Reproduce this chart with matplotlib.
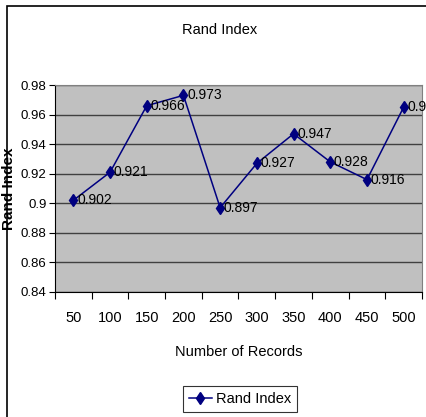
import matplotlib
matplotlib.use('Agg')
import matplotlib.pyplot as plt
from matplotlib.patches import Rectangle

plt.rcParams['font.family'] = ['Liberation Sans', 'DejaVu Sans']

records = ['50', '100', '150', '200', '250', '300', '350', '400', '450', '500']
rand_index = [0.902, 0.921, 0.966, 0.973, 0.897, 0.927, 0.947, 0.928, 0.916, 0.965]
y_ticks = [0.84, 0.86, 0.88, 0.90, 0.92, 0.94, 0.96, 0.98]
y_tick_labels = ['0.84', '0.86', '0.88', '0.9', '0.92', '0.94', '0.96', '0.98']

fig = plt.figure(figsize=(4.27, 4.17), dpi=100)
# outer chart frame (right and bottom edges run off the picture)
fig.patches.append(Rectangle((7 / 427, -0.1), 1.2, 1 - 6 / 417 + 0.1, transform=fig.transFigure,
                             fill=False, edgecolor='black', linewidth=1.2))

ax = fig.add_axes([55 / 427, 1 - 292 / 417, (422 - 55) / 427, (292 - 85) / 417])
ax.set_facecolor('#C0C0C0')

x = list(range(len(records)))
ax.plot(x, rand_index, color='#000080', marker='d', markersize=6, linewidth=1.1, label='Rand Index')
for xi, v in zip(x, rand_index):
    ax.text(xi + 0.1, v, f'{v:.3f}', fontsize=10, va='center', ha='left', color='black', clip_on=False)

ax.set_xlim(-0.5, len(records) - 0.5)
ax.set_ylim(0.84, 0.98)
ax.set_yticks(y_ticks)
ax.set_yticklabels(y_tick_labels, fontsize=9.5)
ax.yaxis.grid(True, color='#404040', linewidth=1)
ax.set_axisbelow(True)

ax.set_xticks([i - 0.5 for i in range(len(records) + 1)])
ax.set_xticklabels([])
ax.set_xticks(x, minor=True)
ax.set_xticklabels(records, minor=True, fontsize=10.5)
ax.tick_params(axis='x', which='major', direction='out', length=5, color='black')
ax.tick_params(axis='x', which='minor', length=0, pad=14)
ax.tick_params(axis='y', direction='out', length=4, pad=2)

for side in ['top', 'right']:
    ax.spines[side].set_color('#808080')
for side in ['left', 'bottom']:
    ax.spines[side].set_color('black')

ax.set_xlabel('Number of Records', fontsize=10.5, labelpad=14)
ax.set_ylabel('Rand Index', fontsize=11, fontweight='bold')
ax.yaxis.set_label_coords(-39 / 367, 0.5)
ax.yaxis.label.set_horizontalalignment('center')
fig.text(220 / 427, 1 - 30 / 417, 'Rand Index', fontsize=10.5, ha='center', va='center')

leg = ax.legend(loc='center', bbox_to_anchor=(240 / 427, 1 - 399 / 417), bbox_transform=fig.transFigure,
                fancybox=False, edgecolor='black', fontsize=10.5, handlelength=1.6, borderpad=0.4,
                handletextpad=0.3)
leg.get_frame().set_linewidth(0.8)

plt.savefig('out.png', dpi=100)
plt.close()
